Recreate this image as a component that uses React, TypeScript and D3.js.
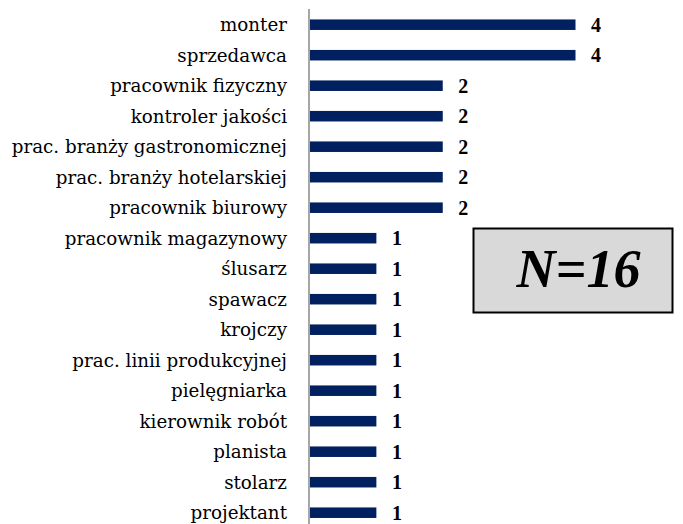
import React from "react";
import * as d3 from "d3";

const categories = [
  "monter",
  "sprzedawca",
  "pracownik fizyczny",
  "kontroler jakości",
  "prac. branży gastronomicznej",
  "prac. branży hotelarskiej",
  "pracownik biurowy",
  "pracownik magazynowy",
  "ślusarz",
  "spawacz",
  "krojczy",
  "prac. linii produkcyjnej",
  "pielęgniarka",
  "kierownik robót",
  "planista",
  "stolarz",
  "projektant",
];
const values = [4, 4, 2, 2, 2, 2, 2, 1, 1, 1, 1, 1, 1, 1, 1, 1, 1];
const nLabel = "N=16";

const W = 683;
const H = 524;
const LABEL_FONT = "DejaVu Serif";
const N_FONT = "Liberation Serif";

export default function App() {
  const y = d3
    .scaleBand<string>()
    .domain(categories)
    .range([9.45, 527.95])
    .paddingInner(0.655)
    .paddingOuter(0.3275);
  const x = d3.scaleLinear().domain([0, 4]).range([310, 575.5]);
  const bh = y.bandwidth();

  return (
    <svg
      width={W}
      height={H}
      style={{ position: "absolute", left: 0, top: 0, background: "#fff" }}
    >
      <line x1={309} x2={309} y1={9} y2={H} stroke="#a6a6a6" strokeWidth={2} />
      {categories.map((c, i) => {
        const yc = (y(c) as number) + bh / 2;
        return (
          <g key={c}>
            <text
              x={287}
              y={yc}
              dy="0.35em"
              textAnchor="end"
              fontFamily={LABEL_FONT}
              fontSize={18.3}
              fill="#000"
            >
              {c}
            </text>
            <rect
              x={x(0)}
              y={y(c) as number}
              width={x(values[i]) - x(0)}
              height={bh}
              fill="#002060"
            />
            <text
              x={x(values[i]) + 15.5}
              y={yc}
              dy="0.35em"
              fontFamily={N_FONT}
              fontWeight="bold"
              fontSize={20}
              fill="#000"
            >
              {values[i]}
            </text>
          </g>
        );
      })}
      <rect
        x={473.5}
        y={228.5}
        width={199}
        height={84}
        fill="#d9d9d9"
        stroke="#000"
        strokeWidth={2}
      />
      <text
        x={578.5}
        y={287}
        textAnchor="middle"
        fontFamily={N_FONT}
        fontWeight="bold"
        fontStyle="italic"
        fontSize={54}
        fill="#000"
      >
        {nLabel}
      </text>
    </svg>
  );
}
